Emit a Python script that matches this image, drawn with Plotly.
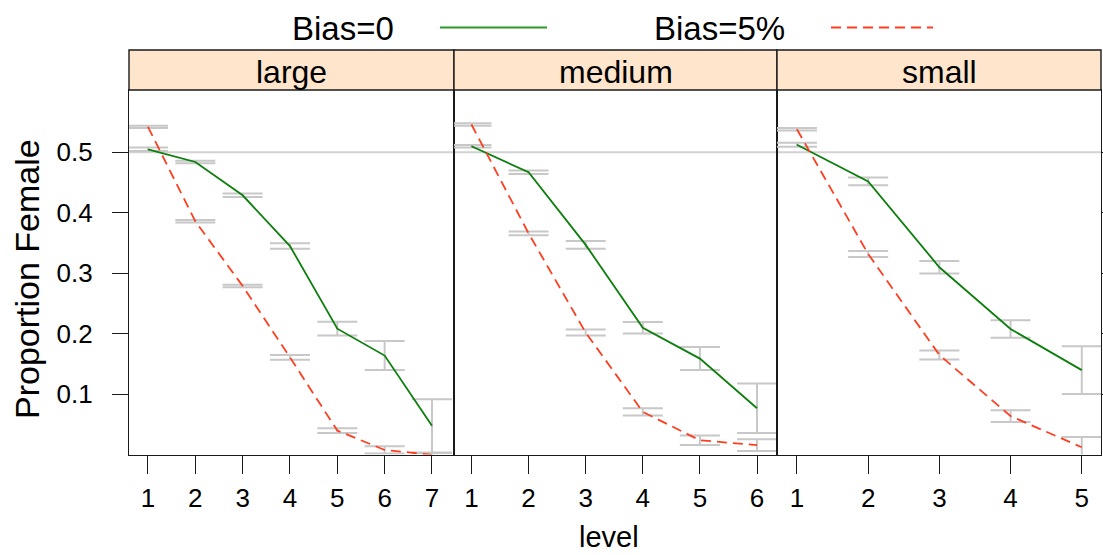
import plotly.graph_objects as go

W, H = 1103, 555

# ---------------- data ----------------
panels = ["large", "medium", "small"]

large_level = [1, 2, 3, 4, 5, 6, 7]
large_bias0 = [0.505, 0.484, 0.429, 0.345, 0.2085, 0.164, 0.048]
large_bias0_err = [0.003, 0.002, 0.003, 0.0045, 0.0115, 0.024, 0.044]
large_bias5 = [0.542, 0.386, 0.279, 0.161, 0.040, 0.008, 0.0]
large_bias5_err = [0.002, 0.002, 0.002, 0.004, 0.004, 0.006, 0.003]

medium_level = [1, 2, 3, 4, 5, 6]
medium_bias0 = [0.510, 0.467, 0.347, 0.210, 0.159, 0.077]
medium_bias0_err = [0.002, 0.003, 0.0065, 0.0095, 0.019, 0.041]
medium_bias5 = [0.546, 0.366, 0.202, 0.071, 0.024, 0.016]
medium_bias5_err = [0.002, 0.003, 0.005, 0.006, 0.008, 0.0096]

small_level = [1, 2, 3, 4, 5]
small_bias0 = [0.5125, 0.452, 0.310, 0.208, 0.140]
small_bias0_err = [0.0035, 0.0065, 0.0105, 0.0145, 0.0395]
small_bias5 = [0.538, 0.332, 0.165, 0.064, 0.0124]
small_bias5_err = [0.002, 0.005, 0.0075, 0.0097, 0.017]

series_names = ["Bias=0", "Bias=5%"]
y_ticks = [0.1, 0.2, 0.3, 0.4, 0.5]
ref_level = 0.5

# ---------------- styling ----------------
FONT = "Liberation Sans, Arial, Helvetica, sans-serif"
GREEN = "#0c7f0c"
RED = "#ff3d1f"
GREY = "#c8c8c8"
STRIP = "#ffe5cc"
AX = "#1a1a1a"
TXT = "#000000"

def px_x(p):
    return p / W

def px_y(p):
    return 1 - p / H

panel_px = [(129, 454), (454, 777), (777, 1101)]
plot_top, plot_bot = 90, 454.5
strip_top = 50
x_ranges = [[0.599, 7.465], [0.694, 6.35], [0.72, 5.27]]
y_range = [0.0005, 0.603]

data = [
    (large_level, large_bias0, large_bias0_err, large_bias5, large_bias5_err),
    (medium_level, medium_bias0, medium_bias0_err, medium_bias5, medium_bias5_err),
    (small_level, small_bias0, small_bias0_err, small_bias5, small_bias5_err),
]

fig = go.Figure()
layout = {}
shapes = []
annotations = []

for i, (lev, b0, e0, b5, e5) in enumerate(data):
    k = "" if i == 0 else str(i + 1)
    xa, ya = "x" + k, "y" + k
    # error bars (drawn first, beneath lines)
    for y, e in ((b0, e0), (b5, e5)):
        fig.add_trace(go.Scatter(
            x=lev, y=y, xaxis=xa, yaxis=ya, mode="markers",
            marker=dict(size=1, color="rgba(0,0,0,0)"),
            error_y=dict(type="data", array=e, visible=True, color=GREY,
                         thickness=2, width=20),
            showlegend=False, hoverinfo="skip"))
    fig.add_trace(go.Scatter(
        x=lev, y=b0, xaxis=xa, yaxis=ya, mode="lines", name=series_names[0],
        line=dict(color=GREEN, width=1.8), showlegend=False))
    fig.add_trace(go.Scatter(
        x=lev, y=b5, xaxis=xa, yaxis=ya, mode="lines", name=series_names[1],
        line=dict(color=RED, width=1.8, dash="10px,6px"), showlegend=False))

    x0, x1 = panel_px[i]
    layout["xaxis" + k] = dict(
        domain=[px_x(x0), px_x(x1)], range=x_ranges[i], anchor=ya,
        automargin=False,
        tickmode="array", tickvals=lev, ticktext=[str(v) for v in lev],
        ticks="outside", ticklen=18, tickwidth=1.4, tickcolor=AX,
        ticklabelstandoff=2,
        showline=True, linecolor=AX, linewidth=1.3, mirror=True,
        showgrid=False, zeroline=False,
        tickfont=dict(family=FONT, size=26, color=TXT))
    ydict = dict(
        domain=[px_y(plot_bot), px_y(plot_top)], range=y_range, anchor=xa,
        automargin=False,
        tickmode="array", tickvals=y_ticks,
        showline=True, linecolor=AX, linewidth=1.3, mirror=True,
        showgrid=False, zeroline=False,
        tickfont=dict(family=FONT, size=26, color=TXT))
    if i == 0:
        ydict.update(ticks="outside", ticklen=16, tickwidth=1.4, tickcolor=AX,
                     ticktext=[str(v) for v in y_ticks], ticklabelstandoff=14)
    elif i == 2:
        ydict.update(side="right", ticks="outside", ticklen=16, tickwidth=1.4,
                     tickcolor=AX, showticklabels=False)
    else:
        ydict.update(ticks="", showticklabels=False)
    if i > 0:
        ydict["matches"] = "y"
    layout["yaxis" + k] = ydict

    # reference line
    shapes.append(dict(type="line", xref=xa + " domain", yref=ya,
                       x0=0, x1=1, y0=ref_level, y1=ref_level,
                       line=dict(color="#d2d2d2", width=2), layer="below"))
    # strip
    shapes.append(dict(type="rect", xref="paper", yref="paper",
                       x0=px_x(x0), x1=px_x(x1), y0=px_y(plot_top), y1=px_y(strip_top),
                       fillcolor=STRIP, line=dict(color=AX, width=1.4), layer="above"))
    annotations.append(dict(text=panels[i], xref="paper", yref="paper",
                            x=px_x((x0 + x1) / 2), y=px_y(72), showarrow=False,
                            xanchor="center", yanchor="middle",
                            font=dict(family=FONT, size=32, color=TXT)))

# legend (key at top)
annotations.append(dict(text=series_names[0], xref="paper", yref="paper",
                        x=px_x(343), y=px_y(28), showarrow=False,
                        xanchor="center", yanchor="middle",
                        font=dict(family=FONT, size=33, color=TXT)))
annotations.append(dict(text=series_names[1], xref="paper", yref="paper",
                        x=px_x(719), y=px_y(28), showarrow=False,
                        xanchor="center", yanchor="middle",
                        font=dict(family=FONT, size=33, color=TXT)))
shapes.append(dict(type="line", xref="paper", yref="paper",
                   x0=px_x(440), x1=px_x(547), y0=px_y(27.5), y1=px_y(27.5),
                   line=dict(color="#2a9a2a", width=2.2)))
shapes.append(dict(type="line", xref="paper", yref="paper",
                   x0=px_x(831), x1=px_x(933), y0=px_y(27.5), y1=px_y(27.5),
                   line=dict(color=RED, width=2.2, dash="10px,6px")))

# axis titles
annotations.append(dict(text="level", xref="paper", yref="paper",
                        x=px_x(609), y=px_y(537), showarrow=False,
                        xanchor="center", yanchor="middle",
                        font=dict(family=FONT, size=29, color=TXT)))
annotations.append(dict(text="Proportion Female", xref="paper", yref="paper",
                        x=px_x(27), y=px_y(279), showarrow=False, textangle=-90,
                        xanchor="center", yanchor="middle",
                        font=dict(family=FONT, size=34, color=TXT)))

fig.update_layout(
    width=W, height=H, autosize=False, margin=dict(l=0, r=0, t=0, b=0),
    paper_bgcolor="white", plot_bgcolor="white",
    showlegend=False, shapes=shapes, annotations=annotations, **layout)

post = (
    "document.documentElement.style.margin='0';"
    "document.body.style.margin='0';document.body.style.padding='0';"
    "document.body.style.overflow='hidden';"
)

fig.write_html(
    "out.html",
    config={"responsive": False, "displayModeBar": False},
    post_script=post,
)
